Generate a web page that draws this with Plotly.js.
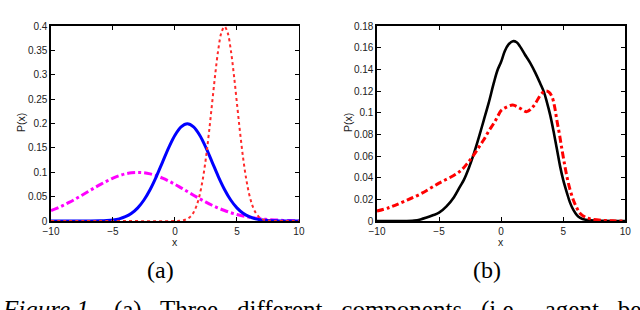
<!DOCTYPE html>
<html>
<head>
<meta charset="utf-8">
<script src="https://cdn.plot.ly/plotly-3.0.1.min.js"></script>
<style>html,body{margin:0;padding:0;background:#fff;}#chart{width:640px;height:310px;}</style>
</head>
<body>
<div id="chart"></div>
<script>
// Panel (a): three components
const xMagenta = [-10,-9.5,-9,-8.5,-8,-7.5,-7,-6.5,-6,-5.5,-5,-4.5,-4,-3.5,-3,-2.5,-2,-1.5,-1,-0.5,0,0.5,1,1.5,2,2.5,3,3.5,4,4.5,5,5.5,6,6.5,7,7.5,8,8.5,9,9.5,10];
const yMagenta = [0.0216,0.0266,0.0324,0.0388,0.0457,0.0530,0.0605,0.0680,0.0753,0.0820,0.0880,0.0930,0.0967,0.0990,0.0997,0.0990,0.0967,0.0930,0.0880,0.0820,0.0753,0.0680,0.0605,0.0530,0.0457,0.0388,0.0324,0.0266,0.0216,0.0172,0.0135,0.0104,0.0079,0.0059,0.0044,0.0032,0.0023,0.0016,0.0011,0.0008,0.0005];

const xBlue = [-10,-8,-7,-6,-5.5,-5,-4.5,-4,-3.5,-3,-2.5,-2,-1.5,-1,-0.5,0,0.5,1,1.5,2,2.5,3,3.5,4,4.5,5,5.5,6,6.5,7,7.5,8,8.5,9,10];
const yBlue = [0,0,0.0001,0.0004,0.0010,0.0022,0.0045,0.0088,0.0159,0.0270,0.0431,0.0648,0.0913,0.1210,0.1506,0.1760,0.1933,0.1995,0.1933,0.1760,0.1506,0.1210,0.0913,0.0648,0.0431,0.0270,0.0159,0.0088,0.0045,0.0022,0.0010,0.0004,0.0001,0,0];

const xRed = [-10,-5,0,0.5,0.75,1,1.25,1.5,1.75,2,2.25,2.5,2.75,3,3.25,3.5,3.75,4,4.25,4.5,4.75,5,5.25,5.5,5.75,6,6.25,6.5,6.75,7,7.25,7.5,8,10];
const yRed = [0,0,0,0.0009,0.0020,0.0044,0.0091,0.0175,0.0317,0.0540,0.0863,0.1295,0.1826,0.2420,0.3011,0.3521,0.3867,0.3989,0.3867,0.3521,0.3011,0.2420,0.1826,0.1295,0.0863,0.0540,0.0317,0.0175,0.0091,0.0044,0.0020,0.0009,0.0001,0];

// Panel (b): fitted vs. mixture
const xBlack = [-10,-8,-7,-6.5,-6,-5.5,-5,-4.4,-3.8,-3.3,-3,-2.6,-2.2,-1.8,-1.4,-1,-0.6,-0.3,0,0.3,0.6,0.94,1.25,1.53,1.9,2.34,2.75,3.15,3.45,3.68,3.95,4.22,4.5,4.76,5,5.3,5.55,5.83,6.1,6.37,6.8,7.18,8,10];
const yBlack = [0,0,0.0005,0.0015,0.0032,0.0053,0.0077,0.0135,0.022,0.032,0.038,0.049,0.062,0.077,0.093,0.109,0.127,0.139,0.147,0.157,0.163,0.166,0.165,0.161,0.154,0.146,0.137,0.127,0.119,0.110,0.098,0.083,0.066,0.050,0.038,0.026,0.017,0.010,0.0055,0.003,0.0012,0.0006,0.0001,0];

const xRed2 = [-10,-9,-7.85,-6.5,-5,-3.82,-3.2,-2.74,-2.2,-1.8,-1.4,-1,-0.6,-0.3,0,0.4,0.94,1.53,2.07,2.6,3.15,3.4,3.63,3.85,4.09,4.3,4.49,4.7,4.9,5.1,5.3,5.55,5.83,6.1,6.37,6.8,7.18,8.25,9,10];
const yRed2 = [0.0092,0.0125,0.018,0.025,0.035,0.042,0.047,0.053,0.061,0.068,0.075,0.083,0.090,0.096,0.102,0.105,0.107,0.104,0.101,0.106,0.116,0.119,0.120,0.119,0.115,0.106,0.093,0.080,0.066,0.053,0.041,0.029,0.019,0.012,0.007,0.0035,0.002,0.0006,0.0002,0];

const xTicks = [-10,-5,0,5,10];
const panelLabels = ['(a)', '(b)'];
const axisTitleX = 'x';
const axisTitleY = 'P(x)';
const captionText = '<i>Figure 1.</i>   (a)   Three   different   components   (i.e.,   agent   be';

const traces = [
  {x: xMagenta, y: yMagenta, xaxis:'x', yaxis:'y', mode:'lines', line:{color:'#ff00ff', width:3, dash:'8px,3px,3px,3px', shape:'spline'}, hoverinfo:'skip'},
  {x: xBlue, y: yBlue, xaxis:'x', yaxis:'y', mode:'lines', line:{color:'#0000ff', width:3, shape:'spline'}, hoverinfo:'skip'},
  {x: xRed, y: yRed, xaxis:'x', yaxis:'y', mode:'lines', line:{color:'#ff2a2a', width:2, dash:'dot', shape:'spline'}, hoverinfo:'skip'},
  {x: xBlack, y: yBlack, xaxis:'x2', yaxis:'y2', mode:'lines', line:{color:'#000000', width:2.6, shape:'spline'}, hoverinfo:'skip'},
  {x: xRed2, y: yRed2, xaxis:'x2', yaxis:'y2', mode:'lines', line:{color:'#ff0000', width:3, dash:'7px,3px,3px,3px', shape:'spline'}, hoverinfo:'skip'}
];

const tickFont = {family:'Liberation Sans, Arial, sans-serif', size:10, color:'#222'};
const titleFont = {family:'Liberation Sans, Arial, sans-serif', size:10.5, color:'#222'};
function xAx(domain, anchor){
  return {domain: domain, anchor: anchor, range:[-10,10], tickvals: xTicks, ticks:'inside', ticklen:4, tickcolor:'#000',
    showline:true, linecolor:'#000', linewidth:1.6, mirror:'ticks', showgrid:false, zeroline:false,
    tickfont: tickFont};
}
function yAx(domain, anchor, rng, dt){
  return {domain: domain, anchor: anchor, range: rng, dtick: dt, tick0:0, ticks:'inside', ticklen:4, tickcolor:'#000',
    showline:true, linecolor:'#000', linewidth:1.6, mirror:'ticks', showgrid:false, zeroline:false,
    tickfont: tickFont};
}
const yDom = [0.287, 0.916];
const serif = 'Liberation Serif, DejaVu Serif, serif';
function ann(text, xpx, ypx, opts){
  return Object.assign({text: text, xref:'paper', yref:'paper', x: xpx/640, y: (310-ypx)/310,
    xanchor:'center', yanchor:'middle', showarrow:false, font: titleFont}, opts || {});
}
const layout = {
  width:640, height:310, margin:{l:0,r:0,t:0,b:0}, showlegend:false,
  paper_bgcolor:'#fff', plot_bgcolor:'#fff',
  xaxis: xAx([0.0797,0.467],'y'),
  yaxis: yAx(yDom,'x',[0,0.4],0.05),
  xaxis2: xAx([0.589,0.977],'y2'),
  yaxis2: yAx(yDom,'x2',[0,0.18],0.02),
  annotations: [
    ann(axisTitleX, 175, 242),
    ann(axisTitleX, 501, 242),
    ann(axisTitleY, 21, 123, {textangle:-90}),
    ann(axisTitleY, 348, 123, {textangle:-90}),
    ann(panelLabels[0], 160, 270, {font:{family:serif, size:24, color:'#000'}}),
    ann(panelLabels[1], 487, 270, {font:{family:serif, size:24, color:'#000'}}),
    ann(captionText, 0, 294, {xanchor:'left', yanchor:'top', font:{family:serif, size:25, color:'#000'}})
  ]
};
Plotly.newPlot('chart', traces, layout, {staticPlot:true, displayModeBar:false});
</script>
</body>
</html>
